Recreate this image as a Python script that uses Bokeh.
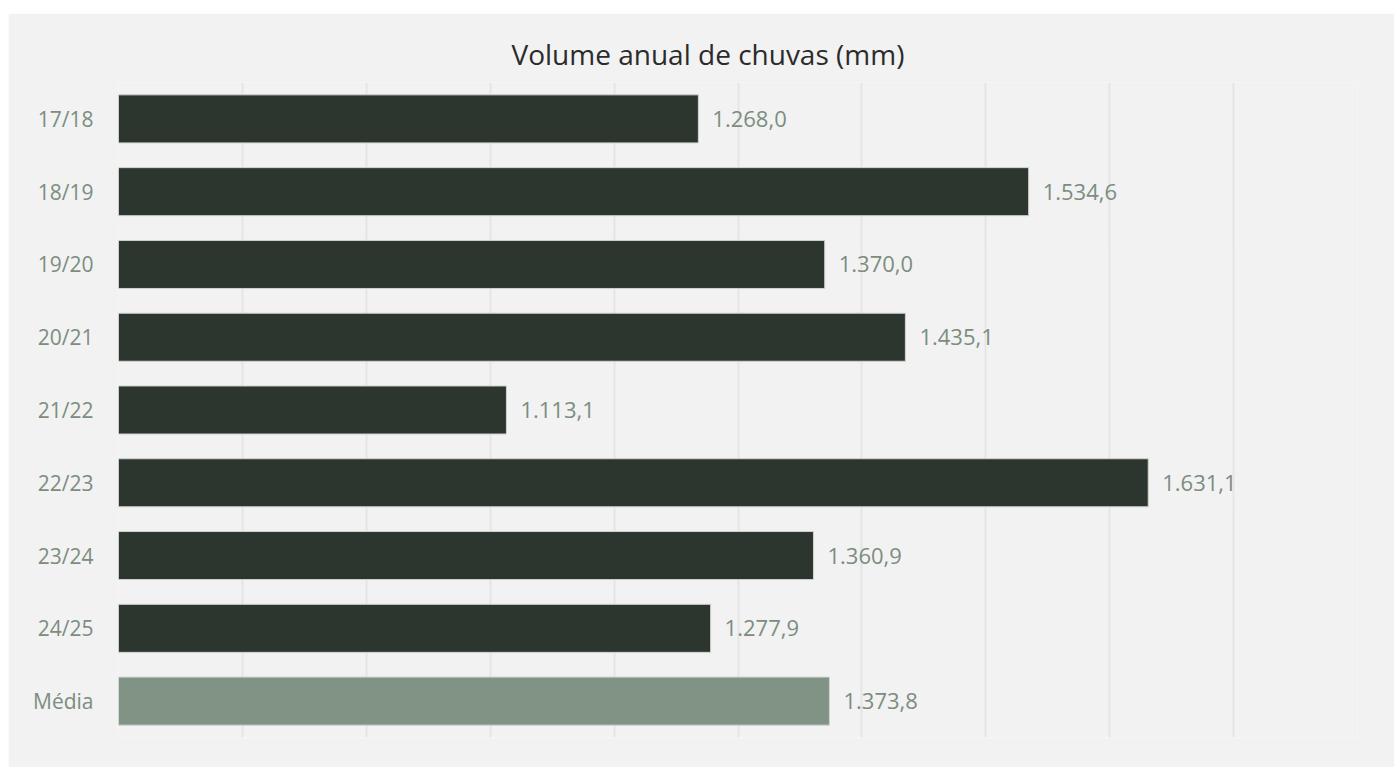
from bokeh.plotting import figure
from bokeh.models import Range1d, FactorRange, ColumnDataSource, SingleIntervalTicker, Title
from bokeh.core.properties import value
from bokeh.embed import file_html
from bokeh.resources import INLINE

# ---- data ----
categories = ["17/18", "18/19", "19/20", "20/21", "21/22", "22/23", "23/24", "24/25", "Média"]
volumes = [1268.0, 1534.6, 1370.0, 1435.1, 1113.1, 1631.1, 1360.9, 1277.9, 1373.8]
axis_start = 800
axis_end = 1800
grid_step = 100

DARK = "#2c352e"
LIGHT = "#819384"
LABEL = "#7c8d7f"
FONT = "Open Sans"


def fmt_br(v):
    s = f"{v:,.1f}"
    return s.replace(",", "X").replace(".", ",").replace("X", ".")


colors = [LIGHT if c == "Média" else DARK for c in categories]
src = ColumnDataSource(dict(
    cat=categories,
    val=volumes,
    base=[axis_start] * len(categories),
    color=colors,
    label=[fmt_br(v) for v in volumes],
))

p = figure(
    width=1386, height=754,
    y_range=FactorRange(*reversed(categories), range_padding=0),
    x_range=Range1d(axis_start, axis_end),
    output_backend="svg", toolbar_location=None,
    background_fill_color="#f2f2f2", border_fill_color="#f2f2f2",
    min_border_left=110, min_border_right=37, min_border_top=69, min_border_bottom=30,
)
p.margin = (13, 0, 0, 8)
p.outline_line_color = None

p.title = Title(text="Volume anual de chuvas (mm)", align="left",
                text_font=FONT, text_font_size="28px", text_font_style="normal",
                text_color="#2b2b2b", standoff=19, offset=393)

p.hbar(y="cat", left="base", right="val", height=0.66, source=src,
       fill_color="color", line_color="#cfd3cf", line_width=1)

p.text(x="val", y="cat", text="label", source=src, x_offset=14,
       text_align="left", text_baseline="middle",
       text_font=value(FONT), text_font_size="22px", text_color=LABEL)

# grid
p.xaxis.ticker = SingleIntervalTicker(interval=grid_step)
p.xgrid.grid_line_color = "#e5e5e5"
p.xgrid.grid_line_width = 2
p.ygrid.grid_line_color = None
p.xaxis.visible = False

# y axis
yax = p.yaxis[0]
yax.axis_line_color = None
yax.major_tick_line_color = None
yax.minor_tick_line_color = None
yax.major_label_standoff = 19
yax.major_label_text_font = FONT
yax.major_label_text_font_size = "21px"
yax.major_label_text_color = LABEL

open("out.html", "w").write(file_html(p, INLINE))
